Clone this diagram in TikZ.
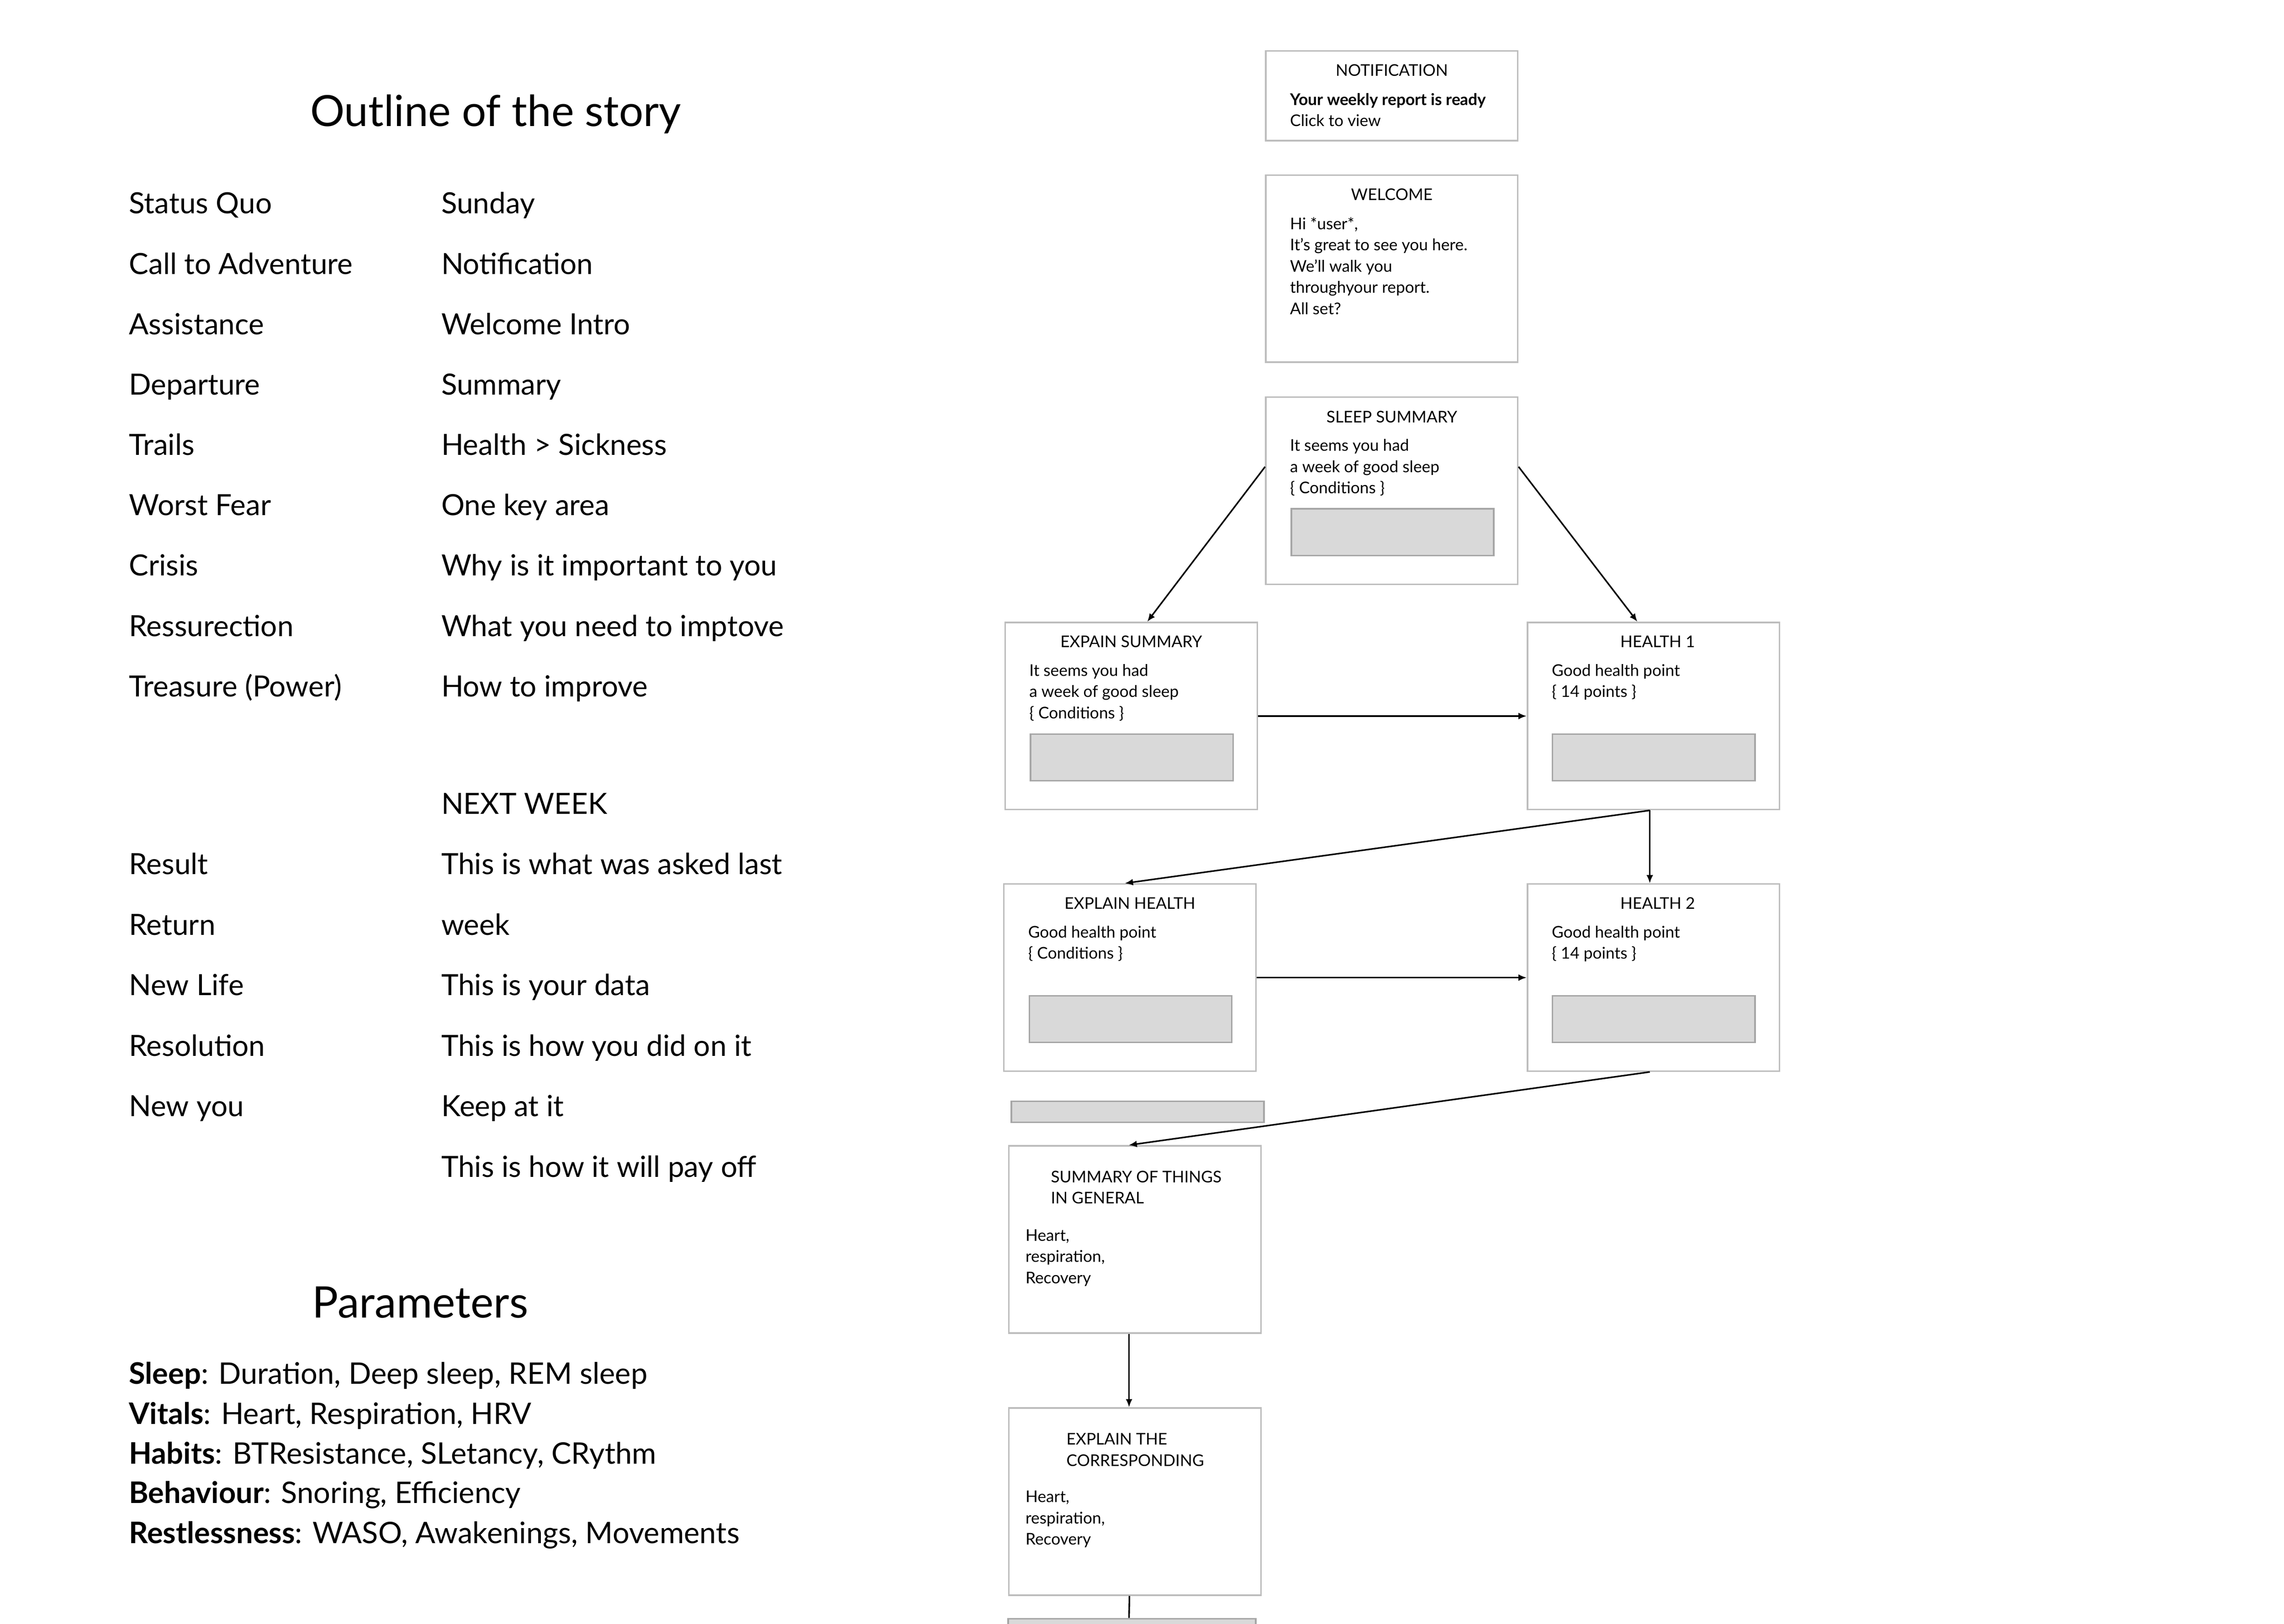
\documentclass[tikz,border=0pt]{standalone}
\usepackage{fontspec}
\setmainfont{Lato}
\usetikzlibrary{positioning, arrows.meta}

\definecolor{boxline}{HTML}{BDBDBD}
\definecolor{barfill}{HTML}{D9D9D9}
\definecolor{barline}{HTML}{A6A6A6}

\begin{document}
\begin{tikzpicture}[x=0.02cm, y=-0.02cm,
        screen/.style={rectangle, draw=boxline, line width=0.6pt, fill=white, minimum width=3.46cm, minimum height=2.57cm, inner sep=0pt},
        bar/.style={rectangle, draw=barline, line width=0.6pt, fill=barfill, minimum width=2.78cm, minimum height=0.64cm, inner sep=0pt},
        boxtext/.style={font=\fontsize{6.3}{8.3}\selectfont, inner sep=0pt},
        screentitle/.style={boxtext, anchor=base},
        screenbody/.style={boxtext, anchor=north west, align=left},
        story/.style={font=\fontsize{11.4}{13}\selectfont, anchor=base west, inner sep=0pt},
        heading/.style={font=\fontsize{16.8}{20}\selectfont, anchor=base, inner sep=0pt},
        flow/.style={-{Latex[length=3.2pt, width=2.6pt]}, line width=0.6pt}]
        \useasboundingbox (0, 0) rectangle (1568, 1115);

        % outline of the story
        \node[heading] (outline) at (340.3, 86.8) {Outline of the story};
        \node[story] (statusquo) at (88.3, 146.7) {Status Quo};
        \node[story] (call) at (88.3, 188.2) {Call to Adventure};
        \node[story] (assist) at (88.3, 229.6) {Assistance};
        \node[story] (depart) at (88.3, 271.1) {Departure};
        \node[story] (trails) at (88.3, 312.5) {Trails};
        \node[story] (fear) at (88.3, 354.0) {Worst Fear};
        \node[story] (crisis) at (88.3, 395.4) {Crisis};
        \node[story] (ressur) at (88.3, 436.9) {Ressurection};
        \node[story] (treasure) at (88.3, 478.3) {Treasure (Power)};
        \node[story] (sunday) at (302.6, 146.7) {Sunday};
        \node[story] (notification) at (302.6, 188.2) {Notification};
        \node[story] (intro) at (302.6, 229.6) {Welcome Intro};
        \node[story] (summary) at (302.6, 271.1) {Summary};
        \node[story] (sickness) at (302.6, 312.5) {Health > Sickness};
        \node[story] (keyarea) at (302.6, 354.0) {One key area};
        \node[story] (why) at (302.6, 395.4) {Why is it important to you};
        \node[story] (need) at (302.6, 436.9) {What you need to imptove};
        \node[story] (how) at (302.6, 478.3) {How to improve};

        % next week
        \node[story] (nextweek) at (302.6, 559.0) {NEXT WEEK};
        \node[story] (result) at (88.3, 600.5) {Result};
        \node[story] (return) at (88.3, 642.1) {Return};
        \node[story] (newlife) at (88.3, 683.6) {New Life};
        \node[story] (resolution) at (88.3, 725.2) {Resolution};
        \node[story] (newyou) at (88.3, 766.7) {New you};
        \node[story] (asked) at (302.6, 600.5) {This is what was asked last};
        \node[story] (week) at (302.6, 642.1) {week};
        \node[story] (data) at (302.6, 683.6) {This is your data};
        \node[story] (didon) at (302.6, 725.2) {This is how you did on it};
        \node[story] (keep) at (302.6, 766.7) {Keep at it};
        \node[story] (payoff) at (302.6, 808.3) {This is how it will pay off};

        % parameters
        \node[heading, font=\fontsize{17}{20}\selectfont] (params) at (288.5, 904.8) {Parameters};
        \node[story, font=\fontsize{11.6}{13}\selectfont] (psleep) at (88.2, 950.4) {\textbf{Sleep}: Duration, Deep sleep, REM sleep};
        \node[story, font=\fontsize{11.6}{13}\selectfont] (pvitals) at (88.2, 977.8) {\textbf{Vitals}: Heart, Respiration, HRV};
        \node[story, font=\fontsize{11.6}{13}\selectfont] (phabits) at (88.2, 1005.3) {\textbf{Habits}: BTResistance, SLetancy, CRythm};
        \node[story, font=\fontsize{11.6}{13}\selectfont] (pbehav) at (88.2, 1032.2) {\textbf{Behaviour}: Snoring, Efficiency};
        \node[story, font=\fontsize{11.6}{13}\selectfont] (prest) at (88.2, 1059.7) {\textbf{Restlessness}: WASO, Awakenings, Movements};

        % screens
        \node[screen, minimum height=1.232cm] (notif) at (955.5, 65.8) {};
        \node[screen] (welcome) at (955.5, 184.5) {};
        \node[screen] (sleepsum) at (955.5, 337.0) {};
        \node[screen] (expsum) at (776.6, 491.7) {};
        \node[screen] (health1) at (1135.1, 491.7) {};
        \node[screen] (exphealth) at (775.7, 671.3) {};
        \node[screen] (health2) at (1135.1, 671.3) {};
        \node[bar, minimum width=3.47cm, minimum height=0.29cm] (genbar) at (781.0, 763.5) {};
        \node[screen] (general) at (779.1, 851.1) {};
        \node[screen] (corresp) at (779.1, 1031.1) {};
        \node[bar, minimum width=3.40cm, minimum height=0.29cm] (endbar) at (777.1, 1118.7) {};

        \node[bar] (sleepbar) at (956.0, 365.4) {};
        \node[bar] (expsumbar) at (777.0, 520.1) {};
        \node[bar] (health1bar) at (1135.3, 520.1) {};
        \node[bar] (exphealthbar) at (776.1, 699.7) {};
        \node[bar] (health2bar) at (1135.3, 699.7) {};

        \node[screentitle] (notif-t) at (955.5, 52.2) {NOTIFICATION};
        \node[screenbody] (notif-b) at (885.3, 63.6) {\textbf{Your weekly report is ready}\\Click to view};
        \node[screentitle] (welcome-t) at (955.5, 137.6) {WELCOME};
        \node[screenbody] (welcome-b) at (885.3, 148.8) {Hi *user*,\\It’s great to see you here.\\We’ll walk you\\throughyour report.\\All set?};
        \node[screentitle] (sleepsum-t) at (955.5, 290.1) {SLEEP SUMMARY};
        \node[screenbody] (sleepsum-b) at (885.3, 301.3) {It seems you had\\a week of good sleep\\\{ Conditions \}};
        \node[screentitle] (expsum-t) at (776.6, 444.5) {EXPAIN SUMMARY};
        \node[screenbody] (expsum-b) at (706.3, 455.7) {It seems you had\\a week of good sleep\\\{ Conditions \}};
        \node[screentitle] (health1-t) at (1138.0, 444.5) {HEALTH 1};
        \node[screenbody] (health1-b) at (1065.0, 455.7) {Good health point\\\{ 14 points \}};
        \node[screentitle] (exphealth-t) at (775.7, 624.2) {EXPLAIN HEALTH};
        \node[screenbody] (exphealth-b) at (705.5, 635.4) {Good health point\\\{ Conditions \}};
        \node[screentitle] (health2-t) at (1138.0, 624.2) {HEALTH 2};
        \node[screenbody] (health2-b) at (1065.0, 635.4) {Good health point\\\{ 14 points \}};
        \node[screenbody] (general-t) at (721.1, 803.6) {SUMMARY OF THINGS\\IN GENERAL};
        \node[screenbody] (general-b) at (703.7, 843.8) {Heart,\\respiration,\\Recovery};
        \node[screenbody] (corresp-t) at (731.8, 983.9) {EXPLAIN THE\\CORRESPONDING};
        \node[screenbody] (corresp-b) at (703.7, 1023.4) {Heart,\\respiration,\\Recovery};

        \draw[flow] ([yshift=0.33cm]sleepsum.west) to ([xshift=0.22cm]expsum.north);
        \draw[flow] ([yshift=0.33cm]sleepsum.east) to ([xshift=-0.22cm]health1.north);
        \draw[flow] (expsum.east) to (health1.west);
        \draw[flow] ([xshift=-0.05cm]health1.south) to ([xshift=-0.07cm]exphealth.north);
        \draw[flow] ([xshift=-0.05cm]health1.south) to ([xshift=-0.05cm]health2.north);
        \draw[flow] (exphealth.east) to (health2.west);
        \draw[flow] ([xshift=-0.05cm]health2.south) to ([xshift=-0.085cm]general.north);
        \draw[flow] ([xshift=-0.08cm]general.south) to ([xshift=-0.08cm]corresp.north);
        \draw[line width=0.6pt] ([xshift=-0.075cm]corresp.south) to ([xshift=-0.04cm]endbar.north);
    \end{tikzpicture}
\end{document}
